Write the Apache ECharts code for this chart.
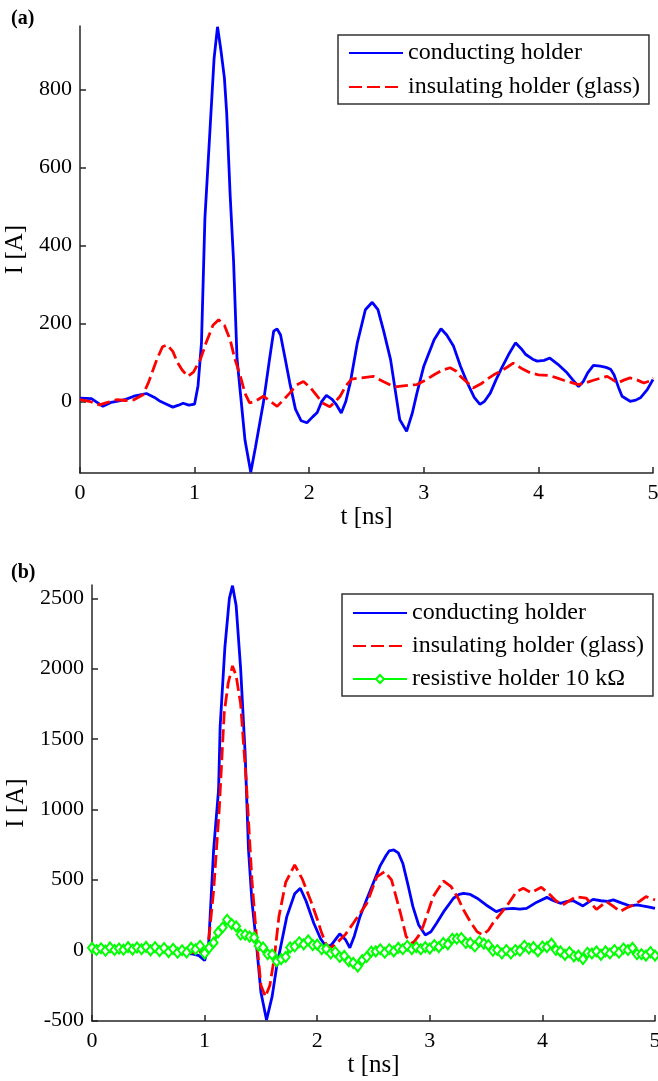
<!DOCTYPE html>
<html>
<head>
<meta charset="utf-8">
<script src="https://cdn.jsdelivr.net/npm/echarts@6/dist/echarts.min.js"></script>
<style>
  html, body { margin: 0; padding: 0; background: #fff; }
  #chart { width: 658px; height: 1081px; }
</style>
</head>
<body>
<div id="chart"></div>
<script>
// Panel (a): current pulses, [t in ns, I in A]
const conductingA = [[0,8],[0.1,7],[0.2,-13],[0.27,-3],[0.32,0],[0.4,5],[0.47,13],[0.58,20],[0.65,10],[0.7,0],[0.76,-8],[0.81,-15],[0.86,-10],[0.9,-5],[0.95,-10],[1.0,-7],[1.03,40],[1.06,150],[1.09,470],[1.135,700],[1.17,880],[1.2,961],[1.23,900],[1.26,830],[1.28,740],[1.31,530],[1.34,360],[1.37,110],[1.40,20],[1.44,-100],[1.49,-182],[1.53,-120],[1.6,-4],[1.65,100],[1.69,180],[1.72,186],[1.75,170],[1.79,110],[1.83,48],[1.88,-20],[1.93,-50],[1.98,-55],[2.03,-40],[2.07,-29],[2.11,0],[2.15,15],[2.2,5],[2.24,-10],[2.28,-30],[2.32,0],[2.36,50],[2.42,150],[2.49,235],[2.55,254],[2.6,235],[2.65,180],[2.71,107],[2.75,30],[2.79,-47],[2.85,-77],[2.9,-30],[2.94,21],[3.0,90],[3.09,158],[3.15,186],[3.2,170],[3.26,141],[3.32,90],[3.38,47],[3.44,10],[3.49,-8],[3.53,0],[3.58,21],[3.63,55],[3.68,86],[3.74,120],[3.80,150],[3.85,135],[3.89,120],[3.95,108],[3.99,103],[4.05,105],[4.1,111],[4.17,95],[4.25,73],[4.3,55],[4.35,38],[4.39,50],[4.43,73],[4.48,92],[4.54,90],[4.59,87],[4.63,82],[4.66,68],[4.7,35],[4.73,13],[4.8,0],[4.85,3],[4.89,9],[4.95,30],[5.0,56]];
const insulatingA = [[0,4],[0.08,0],[0.17,-9],[0.24,-3],[0.32,4],[0.4,2],[0.47,4],[0.55,17],[0.6,50],[0.67,107],[0.72,140],[0.76,145],[0.81,128],[0.85,100],[0.89,81],[0.94,64],[0.99,75],[1.05,107],[1.1,150],[1.16,195],[1.21,209],[1.26,195],[1.31,158],[1.35,110],[1.40,64],[1.44,20],[1.48,-4],[1.53,0],[1.6,13],[1.66,0],[1.72,-13],[1.78,5],[1.83,21],[1.89,42],[1.95,51],[2.01,35],[2.07,13],[2.12,-5],[2.18,-14],[2.23,0],[2.27,13],[2.32,40],[2.37,57],[2.45,60],[2.56,64],[2.65,50],[2.74,37],[2.84,40],[2.94,43],[3.02,55],[3.09,68],[3.16,80],[3.23,86],[3.28,78],[3.32,64],[3.38,48],[3.43,34],[3.5,45],[3.55,56],[3.61,68],[3.67,77],[3.73,88],[3.78,98],[3.85,85],[3.93,73],[4.0,68],[4.1,66],[4.16,60],[4.22,54],[4.29,48],[4.35,43],[4.42,48],[4.48,54],[4.55,60],[4.6,64],[4.65,55],[4.69,47],[4.75,55],[4.8,60],[4.86,55],[4.92,47],[4.97,52],[5.0,60]];

// Panel (b): current pulses, [t in ns, I in A]
const conductingB = [[0,0],[0.1,5],[0.2,-10],[0.3,5],[0.4,15],[0.5,5],[0.6,0],[0.7,-10],[0.8,-20],[0.9,-30],[0.95,-40],[1.0,-75],[1.035,23],[1.08,711],[1.124,1138],[1.138,1588],[1.18,2150],[1.22,2500],[1.248,2590],[1.28,2450],[1.32,2000],[1.36,1399],[1.39,711],[1.42,350],[1.46,47],[1.5,-300],[1.55,-498],[1.6,-330],[1.64,-118],[1.73,237],[1.8,400],[1.85,439],[1.9,350],[1.97,190],[2.03,80],[2.085,18],[2.13,40],[2.2,115],[2.25,75],[2.29,15],[2.33,100],[2.38,237],[2.44,360],[2.5,480],[2.56,600],[2.61,670],[2.64,705],[2.68,711],[2.72,690],[2.76,617],[2.81,450],[2.85,308],[2.9,180],[2.96,107],[3.01,130],[3.06,190],[3.13,280],[3.21,368],[3.26,395],[3.3,403],[3.36,395],[3.42,368],[3.5,320],[3.59,273],[3.65,290],[3.74,296],[3.8,290],[3.86,296],[3.95,340],[4.04,374],[4.1,350],[4.16,332],[4.22,345],[4.27,351],[4.32,330],[4.36,313],[4.41,340],[4.45,360],[4.52,350],[4.58,345],[4.63,356],[4.7,335],[4.78,313],[4.84,320],[4.89,313],[4.95,305],[5.0,296]];
const insulatingB = [[0,5],[0.1,0],[0.2,10],[0.3,-5],[0.4,10],[0.5,0],[0.6,10],[0.7,-5],[0.8,-10],[0.9,-20],[0.98,-10],[1.03,20],[1.08,420],[1.13,1000],[1.174,1683],[1.21,1900],[1.248,2020],[1.28,1950],[1.32,1750],[1.37,1200],[1.42,500],[1.47,0],[1.5,-250],[1.54,-332],[1.58,-250],[1.62,-50],[1.66,237],[1.72,480],[1.8,605],[1.87,500],[1.94,356],[2.0,220],[2.04,120],[2.08,40],[2.12,15],[2.17,47],[2.25,110],[2.32,190],[2.38,260],[2.44,330],[2.53,521],[2.6,557],[2.66,498],[2.7,380],[2.74,261],[2.79,95],[2.85,47],[2.9,100],[2.94,166],[3.03,379],[3.12,491],[3.19,450],[3.25,370],[3.3,284],[3.36,200],[3.42,130],[3.47,107],[3.52,140],[3.56,190],[3.62,250],[3.68,308],[3.77,415],[3.83,439],[3.9,408],[3.99,446],[4.07,391],[4.12,350],[4.18,320],[4.24,350],[4.3,379],[4.39,368],[4.48,289],[4.57,344],[4.63,310],[4.69,273],[4.75,300],[4.81,320],[4.87,350],[4.92,379],[4.97,365],[5.0,356]];
// resistive holder, sampled every 0.04 ns from t = 0
const resistiveStep = 0.04;
const resistiveB = [15,0,12,-5,18,0,10,2,20,3,18,5,22,-3,20,-8,14,-15,8,-20,-2,-18,15,5,30,-25,15,52,125,160,215,185,168,110,108,95,88,30,18,-30,-32,-80,-65,-50,18,25,55,40,68,35,38,5,8,-25,-15,-50,-42,-80,-92,-118,-72,-50,-12,-10,5,-20,5,-10,15,5,30,5,20,5,20,10,35,20,50,40,80,80,85,50,50,25,60,45,35,-5,0,-25,0,-25,0,-5,30,10,20,-10,25,20,45,0,-10,-35,-15,-45,-40,-65,-20,-25,-10,-35,-10,-25,0,-20,10,0,15,-30,-30,-40,-15,-40];

// Axis ranges and tick labels
const xTicks = [0, 1, 2, 3, 4, 5];
const yTicksA = [0, 200, 400, 600, 800];
const yTicksB = [-500, 0, 500, 1000, 1500, 2000, 2500];
const yRangeA = [-184, 963];
const yRangeB = [-505, 2595];

const names = ['conducting holder', 'insulating holder (glass)', 'resistive holder 10 k\u03A9'];

const FONT = 'Liberation Serif';
const AXIS_COLOR = '#262626';
const plain = v => String(v);

function xAxisCfg(gridIndex) {
  return {
    type: 'value', gridIndex, min: 0, max: 5,
    name: 't [ns]', nameLocation: 'middle', nameGap: 32,
    nameTextStyle: { fontFamily: FONT, fontSize: 25, color: '#000' },
    axisLine: { show: true, onZero: false, lineStyle: { color: AXIS_COLOR, width: 1.5 } },
    axisTick: { show: true, inside: true, length: 6, customValues: xTicks, lineStyle: { color: AXIS_COLOR, width: 1.5 } },
    axisLabel: { customValues: xTicks, formatter: plain, margin: 9, fontFamily: FONT, fontSize: 22, color: '#000' },
    splitLine: { show: false }
  };
}
function yAxisCfg(gridIndex, range, ticks, gap) {
  return {
    type: 'value', gridIndex, min: range[0], max: range[1],
    name: 'I [A]', nameLocation: 'middle', nameGap: gap, nameRotate: 90,
    nameTextStyle: { fontFamily: FONT, fontSize: 25, color: '#000' },
    axisLine: { show: true, onZero: false, lineStyle: { color: AXIS_COLOR, width: 1.5 } },
    axisTick: { show: true, inside: true, length: 6, customValues: ticks, lineStyle: { color: AXIS_COLOR, width: 1.5 } },
    axisLabel: { customValues: ticks, formatter: plain, margin: 8, fontFamily: FONT, fontSize: 22, color: '#000' },
    splitLine: { show: false }
  };
}
// legend entries: plain line samples for blue/red, marker kept for the resistive trace
function legendItems(list) {
  return list.map(n => n === names[2] ? { name: n } : { name: n, itemStyle: { opacity: 0 } });
}
function legendCfg(left, top, padding, gap, list) {
  return {
    orient: 'vertical', left, top, padding, itemGap: gap,
    itemWidth: 54, itemHeight: 10,
    data: legendItems(list),
    backgroundColor: '#fff', borderColor: '#333', borderWidth: 1.5, borderRadius: 0,
    textStyle: { fontFamily: FONT, fontSize: 24, lineHeight: 24, color: '#000' },
    selectedMode: false
  };
}

const blueLine = { color: '#0000ff', width: 2.8, type: 'solid' };
const redLine = { color: '#ff0000', width: 2.8, type: [13, 5] };

const resistiveData = resistiveB.map((v, i) => [i * resistiveStep, v]);

const option = {
  animation: false,
  backgroundColor: '#fff',
  title: [
    { text: '(a)', left: 6, top: 4, textStyle: { fontFamily: FONT, fontSize: 20, fontWeight: 'bold', color: '#000' } },
    { text: '(b)', left: 6, top: 558, textStyle: { fontFamily: FONT, fontSize: 20, fontWeight: 'bold', color: '#000' } }
  ],
  grid: [
    { left: 80, right: 5, top: 26, height: 447, outerBoundsMode: 'none' },
    { left: 92, right: 3, top: 585, height: 436, outerBoundsMode: 'none' }
  ],
  xAxis: [xAxisCfg(0), xAxisCfg(1)],
  yAxis: [yAxisCfg(0, yRangeA, yTicksA, 42), yAxisCfg(1, yRangeB, yTicksB, 54)],
  legend: [
    legendCfg(338, 35, [6, 9, 5, 10], 10, names.slice(0, 2)),
    legendCfg(342, 594, [7, 9, 5, 10], 9, names)
  ],
  series: [
    { name: names[0], type: 'line', xAxisIndex: 0, yAxisIndex: 0, data: conductingA, symbol: 'none', lineStyle: blueLine, itemStyle: { color: '#0000ff' } },
    { name: names[1], type: 'line', xAxisIndex: 0, yAxisIndex: 0, data: insulatingA, symbol: 'none', lineStyle: redLine, itemStyle: { color: '#ff0000' } },
    { name: names[0], type: 'line', xAxisIndex: 1, yAxisIndex: 1, data: conductingB, symbol: 'none', lineStyle: blueLine, itemStyle: { color: '#0000ff' } },
    { name: names[1], type: 'line', xAxisIndex: 1, yAxisIndex: 1, data: insulatingB, symbol: 'none', lineStyle: redLine, itemStyle: { color: '#ff0000' } },
    { name: names[2], type: 'line', xAxisIndex: 1, yAxisIndex: 1, data: resistiveData,
      symbol: 'emptyDiamond', symbolSize: [8, 10], showAllSymbol: true,
      lineStyle: { color: '#00ff00', width: 3 },
      itemStyle: { color: '#00ff00', borderColor: '#00ff00', borderWidth: 2 } }
  ]
};

const chart = echarts.init(document.getElementById('chart'), null, { renderer: 'canvas' });
chart.setOption(option);
</script>
</body>
</html>
